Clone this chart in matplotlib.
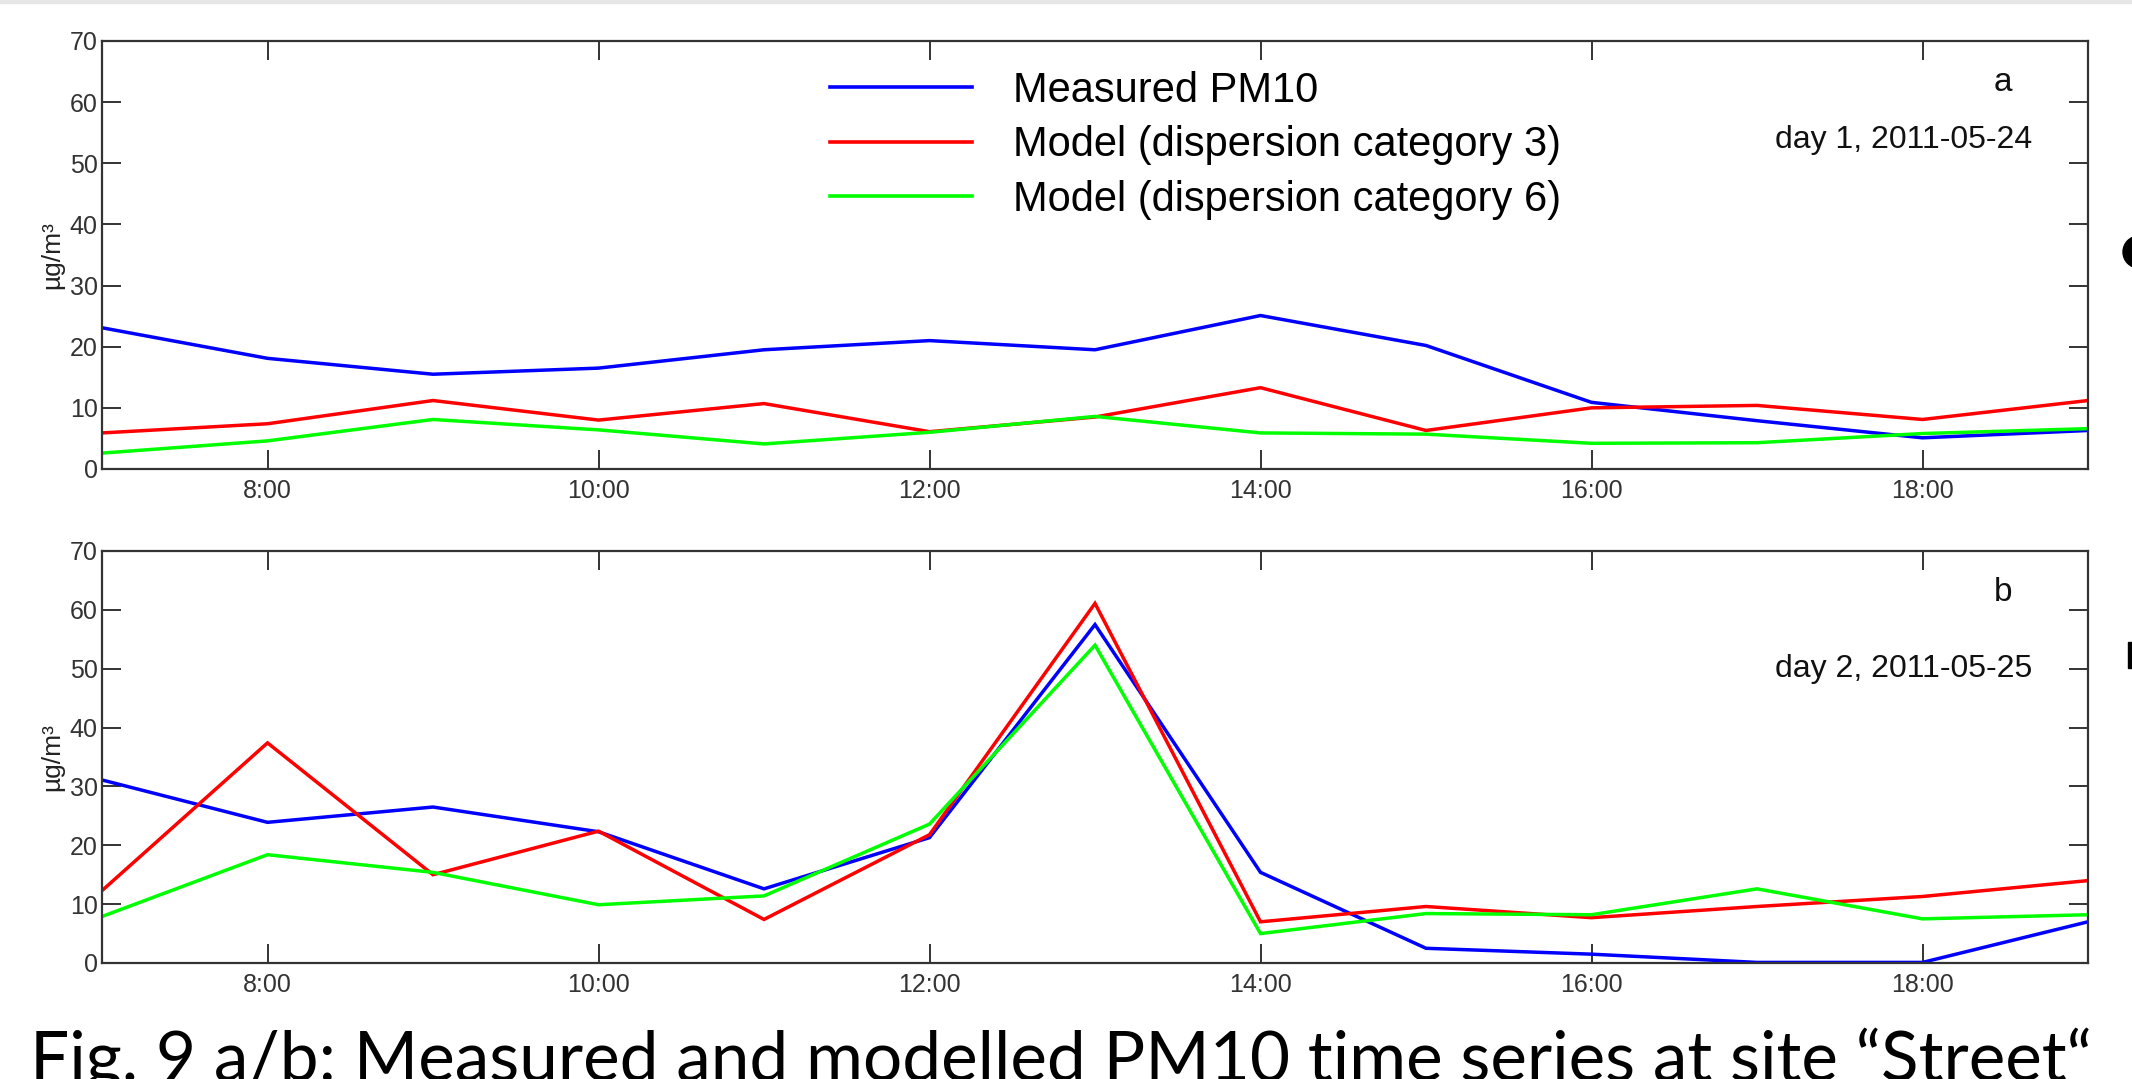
import matplotlib
matplotlib.use("Agg")
import matplotlib.pyplot as plt
from matplotlib.patches import Ellipse, Rectangle

# ---------------- data ----------------
hours = [7, 8, 9, 10, 11, 12, 13, 14, 15, 16, 17, 18, 19]
tick_hours = [8, 10, 12, 14, 16, 18]
tick_labels = ["8:00", "10:00", "12:00", "14:00", "16:00", "18:00"]
y_ticks = [0, 10, 20, 30, 40, 50, 60, 70]

series_names = ["Measured PM10",
                "Model (dispersion category 3)",
                "Model (dispersion category 6)"]
series_colors = ["#0000ff", "#ff0000", "#00ff00"]

day1_measured = [23.1, 18.1, 15.5, 16.5, 19.5, 21.0, 19.5, 25.1, 20.2, 10.9, 7.9, 5.1, 6.3]
day1_cat3 = [5.9, 7.4, 11.2, 8.0, 10.7, 6.1, 8.5, 13.3, 6.3, 10.0, 10.4, 8.1, 11.2]
day1_cat6 = [2.6, 4.6, 8.1, 6.4, 4.1, 6.0, 8.6, 5.9, 5.7, 4.2, 4.3, 5.8, 6.6]

day2_measured = [31.1, 23.9, 26.5, 22.3, 12.6, 21.3, 57.5, 15.4, 2.5, 1.5, 0.1, 0.1, 7.0]
day2_cat3 = [12.3, 37.4, 15.0, 22.4, 7.4, 21.8, 61.1, 7.0, 9.6, 7.7, 9.6, 11.3, 14.0]
day2_cat6 = [7.9, 18.4, 15.4, 9.9, 11.4, 23.6, 54.0, 5.0, 8.4, 8.2, 12.6, 7.5, 8.2]

panel_letters = ["a", "b"]
panel_dates = ["day 1, 2011-05-24", "day 2, 2011-05-25"]
y_unit = "µg/m³"
caption = "Fig. 9 a/b: Measured and modelled PM10 time series at site \u201cStreet\u201c"

# ---------------- figure ----------------
W, H = 2132, 1079
fig = plt.figure(figsize=(W / 100, H / 100), dpi=100)
fig.patch.set_facecolor("white")

tick_font = "Liberation Sans"
spine_col = "#333333"

ax_top = fig.add_axes([102 / W, 1 - 469 / H, 1986 / W, 428 / H])
ax_bot = fig.add_axes([102 / W, 1 - 963 / H, 1986 / W, 412 / H])

panels = [
    (ax_top, [day1_measured, day1_cat3, day1_cat6], 0.904, 0.769),
    (ax_bot, [day2_measured, day2_cat3, day2_cat6], 0.900, 0.714),
]

for i, (ax, data, ya, yd) in enumerate(panels):
    for vals, name, col in zip(data, series_names, series_colors):
        ax.plot(hours, vals, color=col, lw=2.5, label=name, solid_joinstyle="miter")
    ax.set_xlim(7, 19)
    ax.set_ylim(0, 70)
    ax.set_xticks(tick_hours)
    ax.set_xticklabels(tick_labels)
    ax.set_yticks(y_ticks)
    ax.tick_params(axis="both", direction="in", length=14, width=1.4,
                   color=spine_col, labelcolor="#333333", labelsize=18,
                   top=True, right=True)
    ax.tick_params(axis="x", pad=7)
    ax.tick_params(axis="y", pad=3)
    for lab in ax.get_xticklabels() + ax.get_yticklabels():
        lab.set_fontfamily(tick_font)
    for sp in ax.spines.values():
        sp.set_color(spine_col)
        sp.set_linewidth(1.6)
    ax.set_ylabel(y_unit, fontsize=19, family=tick_font, color="#222222", labelpad=4)
    ax.text(0.957, ya, panel_letters[i], transform=ax.transAxes, ha="center",
            va="center", fontsize=24, family=tick_font, color="#111111")
    ax.text(0.972, yd, panel_dates[i], transform=ax.transAxes, ha="right",
            va="center", fontsize=23, family=tick_font, color="#111111")

leg = ax_top.legend(loc="upper left", bbox_to_anchor=(0.3666, 0.93),
                    frameon=False, handlelength=3.41,
                    handletextpad=0.98, labelspacing=0.345, borderpad=0,
                    borderaxespad=0, prop={"family": tick_font, "size": 30})
for line in leg.get_lines():
    line.set_linewidth(2.6)

# caption, fitted to its width in the reference
txt = fig.text(30 / W, 1 - 1082 / H, caption, ha="left", va="baseline",
               fontsize=46, family="Lato", color="black")
fig.canvas.draw()
bb = txt.get_window_extent()
target = 2065
txt.set_fontsize(46 * target / bb.width)

# page decorations: top rule and cut-off slide marks on the right edge
fig.patches.append(Rectangle((0, 1 - 3 / H), 1, 3 / H, transform=fig.transFigure,
                             color="#e6e6e6", zorder=0))
fig.patches.append(Ellipse((2139 / W, 1 - 252 / H), 32 / W, 32 / H,
                           transform=fig.transFigure, color="black"))
fig.patches.append(Rectangle((2128 / W, 1 - 668 / H), 4 / W, 26 / H,
                             transform=fig.transFigure, color="black"))

fig.savefig("out.png", dpi=100)
